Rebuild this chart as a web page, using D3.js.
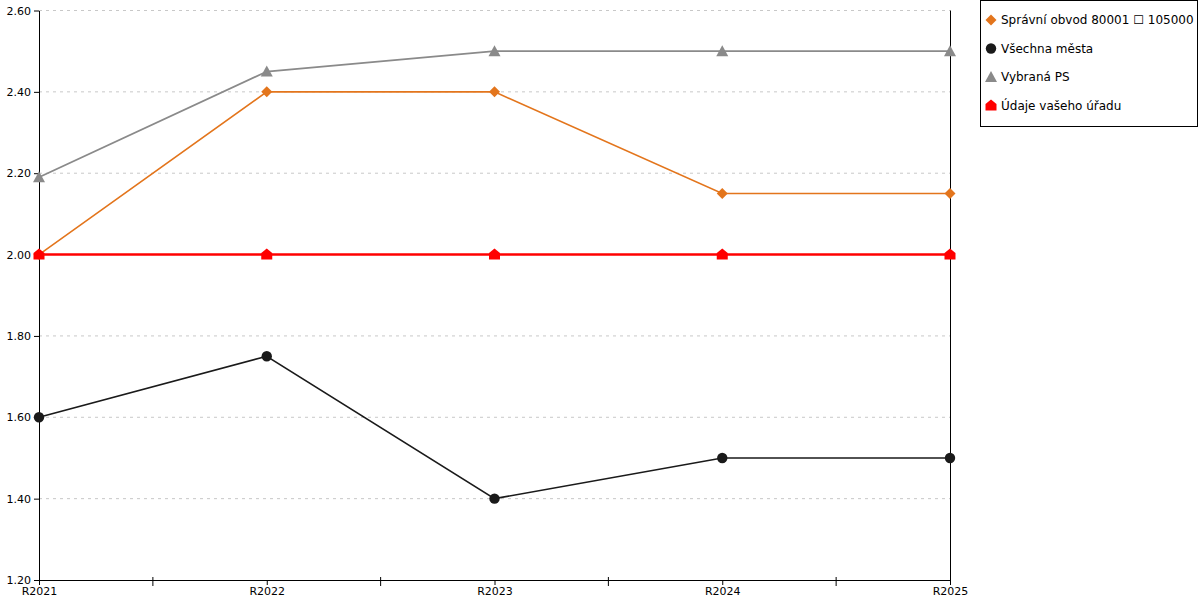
<!DOCTYPE html>
<html><head><meta charset="utf-8">
<script src="https://cdn.jsdelivr.net/npm/d3@7"></script>
<style>body{margin:0;background:#fff}svg{display:block;font-family:"DejaVu Sans",Verdana,sans-serif}</style>
</head><body>
<svg id="c" width="1200" height="600"></svg>
<script>
const categories = ["R2021","R2022","R2023","R2024","R2025"];
const yTicks = [1.20,1.40,1.60,1.80,2.00,2.20,2.40,2.60];
const seriesNames = ["Správní obvod 80001 ☐ 105000","Všechna města","Vybraná PS","Údaje vašeho úřadu"];
const spravniObvod = [2.00,2.40,2.40,2.15,2.15];
const vsechnaMesta = [1.60,1.75,1.40,1.50,1.50];
const vybranaPS = [2.19,2.45,2.50,2.50,2.50];
const udajeUradu = [2.00,2.00,2.00,2.00,2.00];

const seriesList = [
  {name:seriesNames[1], values:vsechnaMesta, color:"#1a1a1a", w:1.6, marker:"circle"},
  {name:seriesNames[2], values:vybranaPS, color:"#8a8a8a", w:1.8, marker:"triangle"},
  {name:seriesNames[0], values:spravniObvod, color:"#e3751c", w:1.6, marker:"diamond"},
  {name:seriesNames[3], values:udajeUradu, color:"#ff0000", w:2.6, marker:"house"}
];
const legendOrder = [2,0,1,3];

const svg = d3.select("#c");
const L=39, R=950, T=10.5, B=580;
const x = d3.scalePoint().domain(categories).range([L,R]);
const y = d3.scaleLinear().domain([1.2,2.6]).range([B,T]);

// grid
svg.append("g").selectAll("line").data(yTicks.filter(d=>d>1.21)).join("line")
  .attr("x1",L).attr("x2",R).attr("y1",d=>y(d)).attr("y2",d=>y(d))
  .attr("stroke","#c8c8c8").attr("stroke-dasharray","3,4").attr("stroke-width",1);

// y axis
const ya = svg.append("g").attr("transform",`translate(${L},0)`)
  .call(d3.axisLeft(y).tickValues(yTicks).tickFormat(d3.format(".2f")).tickSize(5).tickSizeOuter(0));
ya.select(".domain").attr("stroke","#000");
ya.selectAll("text").attr("font-size",11).attr("fill","#000").attr("x",-8).attr("font-family","DejaVu Sans, Verdana, sans-serif");

// right line
svg.append("line").attr("x1",R+0.5).attr("x2",R+0.5).attr("y1",T).attr("y2",B).attr("stroke","#000");

// x axis
const xa = svg.append("g").attr("transform",`translate(0,${B})`)
  .call(d3.axisBottom(x).tickSize(5).tickSizeOuter(0));
xa.select(".domain").attr("stroke","#000");
xa.selectAll("text").attr("font-size",11).attr("fill","#000").attr("dy","0.6em").attr("font-family","DejaVu Sans, Verdana, sans-serif");
// minor ticks between categories
const mids = categories.slice(1).map((c,i)=>(x(categories[i])+x(c))/2);
svg.append("g").selectAll("line").data(mids).join("line")
  .attr("x1",d=>d).attr("x2",d=>d).attr("y1",B-3).attr("y2",B+6).attr("stroke","#000");

function markerPath(type){
  if(type==="circle") return d3.symbol(d3.symbolCircle, 85)();
  if(type==="diamond") return "M0,-5.5L5.5,0L0,5.5L-5.5,0Z";
  if(type==="triangle") return "M0,-6L6,5L-6,5Z";
  if(type==="house") return "M0,-6L5.5,-1.5L5.5,5L-5.5,5L-5.5,-1.5Z";
}

const line = d3.line().x((d,i)=>x(categories[i])).y(d=>y(d));
seriesList.forEach(s=>{
  svg.append("path").datum(s.values).attr("d",line).attr("fill","none")
    .attr("stroke",s.color).attr("stroke-width",s.w);
});
seriesList.forEach(s=>{
  svg.append("g").selectAll("path").data(s.values).join("path")
    .attr("d",markerPath(s.marker)).attr("fill",s.color)
    .attr("transform",(d,i)=>`translate(${x(categories[i])},${y(d)})`);
});

// legend
const lg = svg.append("g");
lg.append("rect").attr("x",980.5).attr("y",0.5).attr("width",217).attr("height",126)
  .attr("fill","#fff").attr("stroke","#000");
legendOrder.forEach((si,k)=>{
  const s = seriesList[si];
  const cy = 20 + k*28.5;
  lg.append("path").attr("d",markerPath(s.marker)).attr("fill",s.color)
    .attr("transform",`translate(991,${cy})`);
  lg.append("text").attr("x",1001).attr("y",cy).attr("dy","0.35em")
    .attr("font-size",12).attr("fill","#000").text(s.name);
});
</script>
</body></html>
